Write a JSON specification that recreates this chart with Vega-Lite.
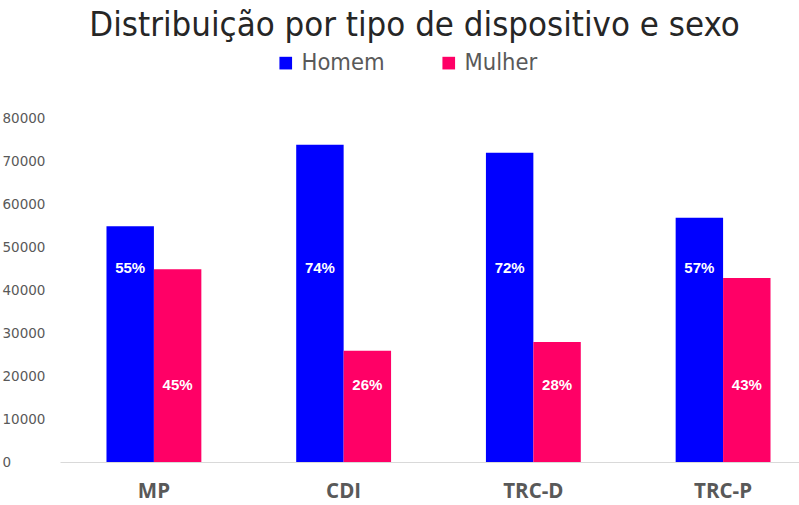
{
  "$schema": "https://vega.github.io/schema/vega-lite/v6.json",
  "autosize": {"type": "none"},
  "width": 757,
  "height": 344,
  "padding": {"left": 60, "top": 118, "right": 0, "bottom": 43},
  "background": "white",
  "title": {
    "text": "Distribuição por tipo de dispositivo e sexo",
    "font": "Liberation Sans Narrow, Arial Narrow, DejaVu Sans Condensed, sans-serif",
    "fontSize": 34.5,
    "fontWeight": "normal",
    "color": "#262626",
    "anchor": "middle",
    "frame": "group",
    "dx": -24,
    "offset": 8
  },
  "data": {
    "values": [
      {"tipo": "MP", "sexo": "Homem", "valor": 54800, "pct": "55%"},
      {"tipo": "MP", "sexo": "Mulher", "valor": 44800, "pct": "45%"},
      {"tipo": "CDI", "sexo": "Homem", "valor": 73800, "pct": "74%"},
      {"tipo": "CDI", "sexo": "Mulher", "valor": 25900, "pct": "26%"},
      {"tipo": "TRC-D", "sexo": "Homem", "valor": 71900, "pct": "72%"},
      {"tipo": "TRC-D", "sexo": "Mulher", "valor": 27900, "pct": "28%"},
      {"tipo": "TRC-P", "sexo": "Homem", "valor": 56800, "pct": "57%"},
      {"tipo": "TRC-P", "sexo": "Mulher", "valor": 42800, "pct": "43%"}
    ]
  },
  "encoding": {
    "x": {
      "field": "tipo",
      "type": "nominal",
      "sort": ["MP", "CDI", "TRC-D", "TRC-P"],
      "scale": {"paddingInner": 0.5, "paddingOuter": 0.245},
      "axis": {
        "title": null,
        "labelAngle": 0,
        "domain": true,
        "domainColor": "#d9d9d9",
        "domainWidth": 1,
        "ticks": false,
        "labelFont": "Open Sans",
        "labelFontSize": 20.5,
        "labelFontWeight": "bold",
        "labelColor": "#595959",
        "labelBaseline": "middle",
        "labelPadding": 29
      }
    },
    "xOffset": {"field": "sexo", "type": "nominal", "sort": ["Homem", "Mulher"]}
  },
  "layer": [
    {
      "mark": {"type": "bar"},
      "encoding": {
        "y": {
          "field": "valor",
          "type": "quantitative",
          "scale": {"domain": [0, 80000]},
          "axis": {
            "title": null,
            "values": [0, 10000, 20000, 30000, 40000, 50000, 60000, 70000, 80000],
            "format": "d",
            "grid": false,
            "domain": false,
            "ticks": false,
            "labelFont": "DejaVu Sans",
            "labelFontSize": 13.5,
            "labelColor": "#595959",
            "labelAlign": "left",
            "labelPadding": 58
          }
        },
        "color": {
          "field": "sexo",
          "type": "nominal",
          "sort": ["Homem", "Mulher"],
          "scale": {"domain": ["Homem", "Mulher"], "range": ["#0000ff", "#ff0066"]},
          "legend": {
            "title": null,
            "orient": "none",
            "direction": "horizontal",
            "legendX": 214,
            "legendY": -67,
            "symbolType": "square",
            "symbolSize": 160,
            "symbolStrokeWidth": 0,
            "labelFont": "Liberation Sans Narrow, Arial Narrow, DejaVu Sans Condensed, sans-serif",
            "labelFontSize": 23.5,
            "labelColor": "#595959",
            "labelOffset": 4,
            "columnPadding": 52
          }
        }
      }
    },
    {
      "transform": [{"filter": "datum.sexo === 'Homem'"}],
      "mark": {"type": "text", "color": "white", "fontWeight": "bold", "fontSize": 15, "font": "Liberation Sans", "baseline": "middle"},
      "encoding": {
        "y": {"datum": 45200, "type": "quantitative"},
        "text": {"field": "pct"}
      }
    },
    {
      "transform": [{"filter": "datum.sexo === 'Mulher'"}],
      "mark": {"type": "text", "color": "white", "fontWeight": "bold", "fontSize": 15, "font": "Liberation Sans", "baseline": "middle"},
      "encoding": {
        "y": {"datum": 17800, "type": "quantitative"},
        "text": {"field": "pct"}
      }
    }
  ],
  "config": {"view": {"stroke": null}}
}
